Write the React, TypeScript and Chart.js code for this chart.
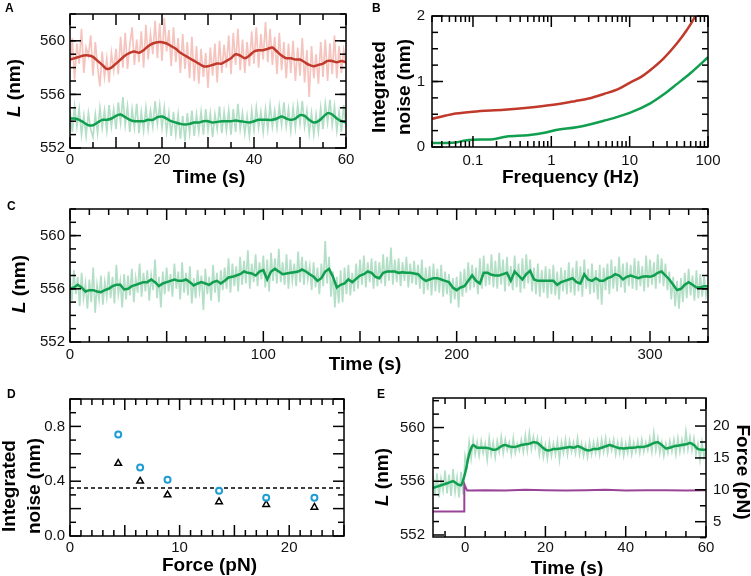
import React, { useEffect, useRef } from 'react';
import { Chart, registerables } from 'chart.js';
Chart.register(...registerables);

const FONT = '"Liberation Sans", Arial, Helvetica, sans-serif';
const TXT = '#111111';
const RED = '#c0392b';
const RED_LIGHT = '#f6c4be';
const GREEN = '#0f9f4f';
const GREEN_LIGHT = '#b3dfc6';
const PURPLE = '#9a4498';
const CYAN = '#1f9dd3';

// ---------- Panel A ----------
const A_RAW_T0 = 0;
const A_RAW_DT = 0.5;
const A_SMOOTH_DT = 1;
const A_X_LABELS = [0, 20, 40, 60];
const A_Y_LABELS = [552, 556, 560];
const A_RED_RAW = [
  558.0, 560.2, 557.1, 559.8, 558.3, 560.9, 557.6, 559.5, 558.9, 560.4,
  557.4, 559.9, 558.1, 556.6, 559.2, 557.3, 558.7, 556.9, 559.1, 557.8,
  559.4, 557.5, 560.3, 558.0, 560.6, 557.9, 559.7, 561.0, 558.2, 560.1,
  558.4, 560.7, 558.0, 561.2, 558.6, 560.5, 559.0, 561.5, 558.7, 561.3,
  558.5, 561.7, 559.2, 560.8, 558.1, 561.0, 558.4, 560.2, 557.6, 560.5,
  557.9, 559.9, 557.2, 560.3, 557.0, 559.6, 556.8, 559.4, 557.3, 559.1,
  556.5, 559.5, 557.4, 559.8, 556.9, 560.0, 557.6, 559.7, 558.0, 560.4,
  557.5, 560.6, 558.2, 560.9, 557.8, 560.1, 557.6, 559.9, 558.1, 560.7,
  558.3, 561.0, 558.0, 560.5, 558.6, 561.4, 558.4, 560.9, 558.2, 560.3,
  557.5, 560.6, 557.8, 559.9, 557.2, 559.8, 557.6, 560.0, 557.0, 559.5,
  557.4, 560.2, 556.9, 559.3, 555.8, 559.6, 557.2, 559.0, 556.8, 559.9,
  557.3, 560.1, 557.0, 559.8, 557.5, 560.4, 557.2, 559.6, 557.6, 559.3,
  558.2,
];
const A_GREEN_RAW = [
  554.8, 553.2, 555.1, 553.6, 554.9, 553.0, 554.4, 552.9, 554.6, 553.4,
  552.8, 554.5, 553.1, 555.0, 553.5, 554.8, 553.3, 555.2, 553.6, 554.9,
  553.4, 555.4, 553.9, 555.8, 553.7, 555.1, 553.2, 554.9, 553.5, 555.3,
  553.1, 554.7, 553.3, 555.0, 553.4, 554.8, 553.6, 555.5, 553.8, 555.2,
  553.5, 555.0, 553.2, 554.6, 552.9, 554.7, 553.0, 554.5, 552.7, 554.4,
  552.5, 554.6, 553.1, 554.8, 552.9, 554.5, 553.2, 554.7, 553.0, 554.9,
  553.3, 554.6, 552.8, 554.5, 553.4, 555.1, 553.1, 554.7, 553.3, 554.8,
  553.0, 554.9, 553.2, 555.3, 553.4, 554.6, 553.1, 554.4, 552.9, 554.8,
  553.3, 555.0, 553.5, 554.7, 553.2, 554.9, 553.4, 555.2, 553.6, 554.8,
  553.5, 555.1, 553.7, 555.4, 553.6, 554.9, 553.3, 555.0, 553.5, 555.2,
  553.8, 555.5, 553.6, 554.8, 553.1, 554.6, 553.0, 554.5, 553.2, 555.0,
  553.4, 555.3, 553.9, 555.6, 553.7, 555.1, 553.3, 554.7, 553.2, 555.2,
  553.6,
];
const A_RED_SMOOTH = [
  558.6, 558.7, 558.8, 558.9, 558.9, 558.8, 558.5, 558.2, 557.9, 558.0,
  558.3, 558.6, 558.9, 559.1, 559.2, 559.1, 559.3, 559.6, 559.8, 559.9,
  559.9, 559.8, 559.6, 559.4, 559.1, 558.9, 558.7, 558.5, 558.3, 558.1,
  558.1, 558.2, 558.3, 558.3, 558.5, 558.7, 559.0, 558.9, 558.7, 558.9,
  559.2, 559.3, 559.3, 559.4, 559.5, 559.2, 558.9, 558.7, 558.7, 558.6,
  558.6, 558.4, 558.2, 558.1, 558.2, 558.3, 558.5, 558.5, 558.4, 558.5,
  558.4,
];
const A_GREEN_SMOOTH = [
  554.2, 554.2, 554.1, 553.9, 553.7, 553.7, 553.9, 554.1, 554.1, 554.2,
  554.4, 554.5, 554.3, 554.1, 554.0, 554.0, 554.0, 554.1, 554.1, 554.3,
  554.35, 554.2, 554.0, 553.9, 553.8, 553.75, 553.8, 553.9, 553.9, 554.0,
  554.0, 553.9, 553.95, 554.0, 554.0, 554.0, 554.05, 554.0, 553.95, 553.9,
  554.0, 554.1, 554.1, 554.1, 554.1, 554.2, 554.35, 554.2, 554.1, 554.2,
  554.45, 554.4, 554.1, 553.9, 554.0, 554.3, 554.6, 554.5, 554.2, 554.0,
  553.9,
];

// ---------- Panel B ----------
const B_X_LABELS = [0.1, 1, 10, 100];
const B_Y_LABELS = [0, 1, 2];
const B_MINOR_X = [0.03, 0.04, 0.05, 0.06, 0.07, 0.08, 0.09, 0.2, 0.3, 0.4, 0.5, 0.6, 0.7, 0.8, 0.9,
  2, 3, 4, 5, 6, 7, 8, 9, 20, 30, 40, 50, 60, 70, 80, 90];
const B_FREQ_RED = [0.03, 0.045, 0.06, 0.1, 0.25, 0.5, 1, 2, 3, 4.7, 7, 10, 14, 18.6, 27, 40, 54, 69, 85];
const B_RED = [0.43, 0.48, 0.51, 0.54, 0.57, 0.60, 0.64, 0.70, 0.74, 0.81, 0.88, 0.98, 1.07, 1.18, 1.35, 1.58, 1.79, 2.0, 2.25];
const B_FREQ_GREEN = [0.03, 0.06, 0.08, 0.1, 0.18, 0.27, 0.5, 0.85, 1.15, 2.1, 4.7, 10, 18.6, 27, 40, 60, 100];
const B_GREEN = [0.06, 0.07, 0.1, 0.11, 0.12, 0.16, 0.18, 0.22, 0.26, 0.30, 0.40, 0.52, 0.67, 0.80, 0.96, 1.13, 1.37];

// ---------- Panel C ----------
const C_RAW_T0 = 0;
const C_RAW_DT = 1;
const C_SMOOTH_DT = 2;
const C_X_LABELS = [0, 100, 200, 300];
const C_Y_LABELS = [552, 556, 560];
const C_RAW = [
  556.8, 555.1, 557.4, 555.6, 556.9, 554.7, 557.2, 555.3, 556.4, 554.5,
  556.7, 555.0, 557.6, 554.2, 556.3, 555.2, 557.0, 554.8, 556.5, 555.4,
  557.3, 555.3, 556.9, 554.9, 557.8, 555.6, 556.6, 554.6, 557.1, 555.2,
  557.0, 555.5, 557.5, 555.0, 556.8, 555.7, 557.9, 555.4, 557.2, 555.8,
  557.4, 555.1, 557.0, 555.9, 558.2, 555.3, 556.9, 554.6, 557.3, 555.6,
  557.6, 555.8, 557.1, 555.4, 557.9, 556.0, 557.3, 555.2, 558.0, 555.7,
  557.2, 555.5, 557.7, 554.9, 556.8, 555.3, 557.4, 555.8, 557.0, 554.4,
  557.5, 555.6, 556.9, 555.1, 557.8, 555.7, 557.2, 555.0, 557.4, 555.9,
  557.6, 556.0, 558.3, 555.7, 557.9, 556.2, 557.7, 555.8, 558.4, 556.3,
  558.1, 556.4, 558.9, 556.0, 557.9, 556.5, 558.6, 556.2, 558.0, 556.7,
  558.5, 556.1, 558.2, 555.8, 558.7, 556.6, 558.3, 556.4, 559.0, 556.5,
  558.0, 556.3, 558.6, 556.0, 558.2, 556.6, 557.9, 556.2, 558.8, 556.5,
  558.4, 556.3, 558.1, 556.7, 557.7, 555.9, 558.0, 556.1, 557.6, 555.6,
  557.9, 556.2, 559.6, 556.4, 558.4, 555.4, 557.3, 554.6, 556.9, 554.9,
  557.4, 555.0, 557.6, 555.6, 557.8, 555.5, 557.2, 555.8, 557.9, 556.0,
  558.2, 556.3, 558.5, 556.1, 558.0, 556.5, 558.3, 556.0, 558.1, 556.2,
  558.0, 556.4, 558.6, 556.2, 558.4, 556.6, 559.1, 556.3, 558.2, 556.5,
  558.3, 556.2, 558.0, 556.6, 558.4, 556.1, 557.9, 556.4, 558.1, 556.3,
  557.8, 556.0, 558.2, 555.6, 557.6, 555.9, 557.7, 555.5, 557.9, 555.8,
  557.5, 555.7, 557.8, 555.4, 557.3, 555.6, 557.1, 554.9, 556.8, 555.2,
  556.9, 554.6, 557.3, 555.4, 557.5, 555.7, 558.0, 555.9, 557.8, 556.1,
  557.6, 555.6, 558.3, 556.0, 558.5, 556.2, 557.9, 556.3, 558.6, 556.1,
  558.1, 556.0, 558.7, 556.3, 558.2, 555.8, 558.4, 556.2, 557.7, 555.9,
  558.5, 556.1, 557.9, 555.7, 558.3, 556.0, 558.6, 556.4, 558.2, 555.8,
  557.6, 555.6, 557.9, 555.4, 557.4, 555.7, 557.7, 555.3, 557.5, 555.6,
  557.8, 555.5, 557.3, 555.2, 557.6, 555.8, 557.4, 555.6, 558.0, 555.7,
  557.6, 555.5, 558.1, 555.8, 557.7, 555.4, 558.2, 556.0, 557.5, 555.6,
  557.9, 555.7, 557.4, 555.2, 557.8, 554.8, 557.6, 555.9, 557.9, 555.6,
  558.2, 556.0, 557.7, 555.8, 558.4, 556.1, 557.9, 555.7, 558.0, 556.2,
  557.8, 556.0, 558.3, 555.9, 558.1, 556.2, 557.7, 555.8, 558.5, 556.1,
  558.2, 556.3, 558.0, 556.0, 558.6, 556.4, 558.3, 556.2, 557.9, 555.9,
  557.3, 555.2, 556.9, 554.7, 556.6, 554.5, 556.8, 555.0, 557.2, 555.3,
  557.5, 555.5, 557.0, 555.1, 557.4, 555.3, 557.1, 555.4, 556.9, 555.5,
  556.3,
];
const C_SMOOTH = [
  556.0, 556.1, 556.3, 556.1, 555.8, 555.9, 555.9, 555.8, 555.75, 555.9,
  556.0, 556.2, 556.3, 556.3, 555.95, 556.0, 556.2, 556.3, 556.4, 556.5,
  556.5, 556.7, 556.5, 556.2, 556.4, 556.5, 556.6, 556.7, 556.6, 556.6,
  556.7, 556.5, 556.25, 556.4, 556.5, 556.4, 556.3, 556.5, 556.6, 556.4,
  556.6, 556.85, 556.9, 557.0, 557.1, 557.3, 557.2, 557.15, 557.0, 557.3,
  557.4, 556.7, 557.3, 557.5, 557.3, 557.1, 557.15, 557.2, 557.25, 557.3,
  557.45, 557.3, 557.1, 556.9, 556.6, 556.8, 557.3, 557.5, 556.9, 556.1,
  556.3, 556.4, 556.7, 556.5, 556.75, 557.0, 557.1, 557.3, 557.2, 556.9,
  556.8, 557.2, 557.3, 557.3, 557.3, 557.2, 557.25, 557.2, 557.2, 557.15,
  557.1, 556.8, 556.6, 556.7, 556.8, 556.8, 556.7, 556.6, 556.5, 556.1,
  555.9, 556.1, 556.2, 556.6, 557.0, 556.6, 556.4, 557.2, 557.2, 557.05,
  557.0, 557.0, 557.1, 557.2, 556.6, 557.3, 557.0, 556.7, 557.1, 557.35,
  556.7, 556.6, 556.6, 556.6, 556.6, 556.6, 556.3, 556.5, 556.6, 556.7,
  556.8, 556.5, 556.4, 557.1, 556.7, 556.6, 556.8, 556.6, 556.6, 556.8,
  556.9, 557.1, 557.0, 556.7, 556.9, 557.0, 556.9, 556.8, 556.9, 556.95,
  556.9, 557.0, 557.2, 557.3, 557.0, 556.7, 556.3, 555.9, 556.0, 556.3,
  556.5, 556.3, 556.1, 556.1, 556.2, 556.2,
];

// ---------- Panel D ----------
const D_X_LABELS = [0, 10, 20];
const D_Y_LABELS = [0.0, 0.4, 0.8];
const D_FORCE = [4.4, 6.4, 8.9, 13.6, 17.9, 22.3];
const D_CIRCLE_NOISE = [0.74, 0.50, 0.41, 0.33, 0.28, 0.28];
const D_TRIANGLE_NOISE = [0.53, 0.40, 0.30, 0.25, 0.23, 0.21];
const D_LEVEL_X = [0, 25];
const D_LEVEL_Y = [0.35, 0.35];

// ---------- Panel E ----------
const E_RAW_T0 = -8;
const E_RAW_DT = 0.5;
const E_SMOOTH_DT = 1;
const E_X_LABELS = [0, 20, 40, 60];
const E_Y_LABELS = [552, 556, 560];
const E_F_LABELS = [5, 10, 15, 20];
const E_RAW = [
  556.4, 555.0, 556.6, 554.8, 556.2, 555.3, 556.8, 555.1, 556.5, 554.9,
  556.9, 555.2, 556.3, 554.8, 556.7, 555.0, 557.9, 557.2, 558.9, 557.7,
  559.1, 558.0, 558.9, 557.9, 559.0, 558.1, 558.8, 557.6, 559.2, 558.0,
  558.9, 557.8, 559.0, 558.2, 559.3, 558.1, 559.1, 558.3, 558.9, 558.0,
  559.2, 558.1, 558.8, 558.3, 559.1, 558.2, 559.4, 558.3, 559.6, 558.4,
  559.3, 558.5, 559.2, 558.0, 559.0, 557.8, 558.7, 557.7, 558.9, 557.9,
  558.8, 558.0, 559.0, 557.6, 558.9, 558.1, 559.1, 558.0, 559.0, 558.2,
  558.9, 558.1, 559.2, 558.0, 558.8, 557.9, 558.7, 557.8, 558.9, 558.0,
  558.9, 558.1, 559.0, 558.0, 559.1, 558.2, 559.2, 558.1, 559.0, 558.3,
  559.1, 558.0, 558.9, 558.1, 559.0, 557.9, 558.8, 558.1, 559.1, 558.0,
  558.9, 558.2, 559.0, 558.1, 559.1, 558.2, 558.9, 558.3, 559.2, 558.2,
  559.6, 558.3, 559.2, 558.1, 558.9, 557.9, 558.8, 558.1, 559.0, 558.2,
  559.1, 558.0, 559.2, 558.2, 559.1, 558.3, 559.7, 558.4, 559.3, 558.3,
  559.2, 558.0, 558.8, 557.6, 558.9, 557.8, 558.4,
];
const E_SMOOTH = [
  555.5, 555.6, 555.7, 555.8, 555.9, 556.0, 555.8, 555.7, 556.6, 558.0,
  558.7, 558.5, 558.5, 558.5, 558.45, 558.35, 558.4, 558.6, 558.7, 558.6,
  558.55, 558.6, 558.7, 558.75, 558.8, 558.9, 558.85, 558.6, 558.35, 558.3,
  558.4, 558.4, 558.45, 558.5, 558.55, 558.5, 558.6, 558.5, 558.35, 558.3,
  558.4, 558.4, 558.5, 558.6, 558.7, 558.6, 558.5, 558.45, 558.45, 558.5,
  558.5, 558.55, 558.55, 558.6, 558.7, 558.85, 558.9, 558.7, 558.45, 558.5,
  558.6, 558.65, 558.7, 558.75, 558.85, 558.7, 558.4, 558.35, 558.35,
];
const E_FORCE_T = [-8, -0.2, -0.2, 0.1, 0.5, 5, 10, 15, 20, 25, 30, 35, 40, 45, 50, 55, 60];
const E_FORCE = [6.6, 6.6, 10.9, 10.4, 9.9, 9.95, 9.9, 10.0, 9.95, 9.9, 9.95, 10.0, 9.9, 9.95, 9.95, 9.9, 9.95];

// ---------- helpers ----------
const range = (a: number, b: number, s: number) => {
  const out: number[] = [];
  for (let v = a; v <= b + 1e-9; v += s) out.push(+v.toFixed(6));
  return out;
};
const sampled = (t0: number, dt: number, ys: number[]) => ys.map((y, i) => ({ x: t0 + i * dt, y }));
const paired = (xs: number[], ys: number[]) => xs.map((x, i) => ({ x, y: ys[i] }));

const tickFont = { family: FONT, size: 15 };

function xAxis(type: string, min: number, max: number, labels: number[], pad: number, h: number, fmt?: (v: number) => string) {
  return {
    type, position: 'bottom', min, max,
    afterBuildTicks: (s: any) => { s.ticks = labels.map((v) => ({ value: v })); },
    afterFit: (s: any) => { s.height = h; },
    grid: { display: false, drawTicks: false },
    border: { display: false },
    ticks: {
      font: tickFont, color: TXT, padding: pad, maxRotation: 0, minRotation: 0, autoSkip: false,
      callback: (v: any) => (fmt ? fmt(Number(v)) : String(v)),
    },
  };
}
function yAxis(position: string, min: number, max: number, labels: number[], pad: number, w: number, fmt?: (v: number) => string) {
  return {
    type: 'linear', position, min, max,
    afterBuildTicks: (s: any) => { s.ticks = labels.map((v) => ({ value: v })); },
    afterFit: (s: any) => { s.width = w; },
    grid: { display: false, drawTicks: false },
    border: { display: false },
    ticks: {
      font: tickFont, color: TXT, padding: pad, autoSkip: false,
      callback: (v: any) => (fmt ? fmt(Number(v)) : String(v)),
    },
  };
}

type TickSet = { axis: string; edges: string[]; major: number[]; minor: number[] };
function framePlugin(sets: TickSet[]) {
  return {
    id: 'frame',
    afterDatasetsDraw(chart: any) {
      const { ctx, chartArea } = chart;
      const { left, right, top, bottom } = chartArea;
      ctx.save();
      ctx.strokeStyle = '#000';
      ctx.lineWidth = 1.5;
      ctx.lineCap = 'butt';
      for (const set of sets) {
        const scale = chart.scales[set.axis];
        const draw = (vals: number[], len: number) => {
          for (const v of vals) {
            const p = scale.getPixelForValue(v);
            for (const e of set.edges) {
              ctx.beginPath();
              if (e === 'bottom') { ctx.moveTo(p, bottom); ctx.lineTo(p, bottom - len); }
              if (e === 'top') { ctx.moveTo(p, top); ctx.lineTo(p, top + len); }
              if (e === 'left') { ctx.moveTo(left, p); ctx.lineTo(left + len, p); }
              if (e === 'right') { ctx.moveTo(right, p); ctx.lineTo(right - len, p); }
              ctx.stroke();
            }
          }
        };
        draw(set.minor, 6);
        draw(set.major, 11);
      }
      ctx.strokeRect(left, top, right - left, bottom - top);
      ctx.restore();
    },
  };
}

type Part = { t: string; italic?: boolean };
type TextItem = { x: number; y: number; rot: number; parts: Part[] };
function textPlugin(items: TextItem[], ox: number, oy: number) {
  return {
    id: 'texts',
    afterDraw(chart: any) {
      const ctx = chart.ctx;
      ctx.save();
      ctx.fillStyle = '#000';
      ctx.textBaseline = 'middle';
      ctx.textAlign = 'left';
      for (const it of items) {
        ctx.save();
        ctx.translate(it.x - ox, it.y - oy);
        ctx.rotate((it.rot * Math.PI) / 180);
        const fonts = it.parts.map((p) => `${p.italic ? 'italic ' : ''}bold 19px ${FONT}`);
        let total = 0;
        const widths = it.parts.map((p, i) => { ctx.font = fonts[i]; const w = ctx.measureText(p.t).width; total += w; return w; });
        let cx = -total / 2;
        it.parts.forEach((p, i) => { ctx.font = fonts[i]; ctx.fillText(p.t, cx, 0); cx += widths[i]; });
        ctx.restore();
      }
      ctx.restore();
    },
  };
}

const L_PARTS: Part[] = [{ t: 'L', italic: true }, { t: ' (nm)' }];

// Chart.js draws dataset 0 on top, so smoothed traces are listed first.
const lineDs = (data: any[], color: string, width: number, extra: any = {}) => ({
  data, borderColor: color, backgroundColor: color, borderWidth: width, pointRadius: 0,
  fill: false, tension: 0, ...extra,
});

const baseOptions = (padding: any, scales: any) => ({
  responsive: false,
  animation: false,
  events: [],
  layout: { padding },
  plugins: { legend: { display: false }, tooltip: { enabled: false }, title: { display: false } },
  scales,
});

// ---------- chart configs ----------
function makeA(ox: number, oy: number): any {
  return {
    type: 'line',
    data: {
      datasets: [
        lineDs(sampled(A_RAW_T0, A_SMOOTH_DT, A_RED_SMOOTH), RED, 2.5, { tension: 0.3 }),
        lineDs(sampled(A_RAW_T0, A_SMOOTH_DT, A_GREEN_SMOOTH), GREEN, 2.5, { tension: 0.3 }),
        lineDs(sampled(A_RAW_T0, A_RAW_DT, A_RED_RAW), RED_LIGHT, 1.7),
        lineDs(sampled(A_RAW_T0, A_RAW_DT, A_GREEN_RAW), GREEN_LIGHT, 1.7),
      ],
    },
    options: baseOptions({ left: 0, top: 12, right: 26, bottom: 0 }, {
      x: xAxis('linear', 0, 60, A_X_LABELS, 3, 47),
      y: yAxis('left', 552, 562, A_Y_LABELS, 5, 70),
    }),
    plugins: [
      framePlugin([
        { axis: 'x', edges: ['bottom', 'top'], major: range(0, 60, 10), minor: range(5, 55, 10) },
        { axis: 'y', edges: ['left', 'right'], major: A_Y_LABELS, minor: range(553, 562, 1) },
      ]),
      textPlugin([
        { x: 14.5, y: 88, rot: -90, parts: L_PARTS },
        { x: 209, y: 178, rot: 0, parts: [{ t: 'Time (s)' }] },
      ], ox, oy),
    ],
  };
}

function makeB(ox: number, oy: number): any {
  return {
    type: 'line',
    data: {
      datasets: [
        lineDs(paired(B_FREQ_RED, B_RED), RED, 2.5, { cubicInterpolationMode: 'monotone', clip: 0 }),
        lineDs(paired(B_FREQ_GREEN, B_GREEN), GREEN, 2.5, { cubicInterpolationMode: 'monotone', clip: 0 }),
      ],
    },
    options: baseOptions({ left: 0, top: 11, right: 43, bottom: 0 }, {
      x: xAxis('logarithmic', 0.03, 100, B_X_LABELS, 5, 48, (v) => String(v)),
      y: yAxis('left', 0, 2, B_Y_LABELS, 7, 72),
    }),
    plugins: [
      framePlugin([
        { axis: 'x', edges: ['bottom', 'top'], major: B_X_LABELS, minor: B_MINOR_X },
        { axis: 'y', edges: ['left', 'right'], major: B_Y_LABELS, minor: range(0.25, 1.75, 0.25) },
      ]),
      textPlugin([
        { x: 379.5, y: 87, rot: -90, parts: [{ t: 'Integrated' }] },
        { x: 405, y: 87, rot: -90, parts: [{ t: 'noise (nm)' }] },
        { x: 570.5, y: 178, rot: 0, parts: [{ t: 'Frequency (Hz)' }] },
      ], ox, oy),
    ],
  };
}

function makeC(ox: number, oy: number): any {
  return {
    type: 'line',
    data: {
      datasets: [
        lineDs(sampled(C_RAW_T0, C_SMOOTH_DT, C_SMOOTH), GREEN, 2.5),
        lineDs(sampled(C_RAW_T0, C_RAW_DT, C_RAW), GREEN_LIGHT, 1.7),
      ],
    },
    options: baseOptions({ left: 0, top: 10, right: 43, bottom: 0 }, {
      x: xAxis('linear', 0, 330, C_X_LABELS, 4, 38),
      y: yAxis('left', 552, 562, C_Y_LABELS, 5, 70),
    }),
    plugins: [
      framePlugin([
        { axis: 'x', edges: ['bottom', 'top'], major: range(0, 300, 50), minor: range(10, 330, 10).filter((v) => v % 50 !== 0) },
        { axis: 'y', edges: ['left', 'right'], major: C_Y_LABELS, minor: range(553, 562, 1) },
      ]),
      textPlugin([
        { x: 20, y: 284, rot: -90, parts: L_PARTS },
        { x: 365, y: 365, rot: 0, parts: [{ t: 'Time (s)' }] },
      ], ox, oy),
    ],
  };
}

function makeD(ox: number, oy: number): any {
  return {
    type: 'line',
    data: {
      datasets: [
        {
          data: paired(D_FORCE, D_CIRCLE_NOISE), showLine: false, pointStyle: 'circle',
          pointRadius: 3, pointBorderWidth: 2, pointBorderColor: CYAN, pointBackgroundColor: 'rgba(0,0,0,0)',
        },
        {
          data: paired(D_FORCE, D_TRIANGLE_NOISE), showLine: false, pointStyle: 'triangle',
          pointRadius: 3.8, pointBorderWidth: 1.5, pointBorderColor: '#000', pointBackgroundColor: 'rgba(0,0,0,0)',
        },
        lineDs(paired(D_LEVEL_X, D_LEVEL_Y), '#000', 1.5, { borderDash: [4, 3] }),
      ],
    },
    options: baseOptions({ left: 0, top: 19, right: 28, bottom: 0 }, {
      x: xAxis('linear', 0, 25, D_X_LABELS, 3, 40),
      y: yAxis('left', 0, 1, D_Y_LABELS, 5, 70, (v) => v.toFixed(1)),
    }),
    plugins: [
      framePlugin([
        { axis: 'x', edges: ['bottom', 'top'], major: range(0, 25, 5), minor: range(1, 24, 1).filter((v) => v % 5 !== 0) },
        { axis: 'y', edges: ['left', 'right'], major: range(0, 1, 0.2), minor: range(0.1, 0.9, 0.2) },
      ]),
      textPlugin([
        { x: 10, y: 486, rot: -90, parts: [{ t: 'Integrated' }] },
        { x: 34.5, y: 486, rot: -90, parts: [{ t: 'noise (nm)' }] },
        { x: 209.5, y: 566, rot: 0, parts: [{ t: 'Force (pN)' }] },
      ], ox, oy),
    ],
  };
}

function makeE(ox: number, oy: number): any {
  return {
    type: 'line',
    data: {
      datasets: [
        lineDs(sampled(E_RAW_T0, E_SMOOTH_DT, E_SMOOTH), GREEN, 2.5, { tension: 0.2 }),
        lineDs(paired(E_FORCE_T, E_FORCE), PURPLE, 2, { yAxisID: 'y2' }),
        lineDs(sampled(E_RAW_T0, E_RAW_DT, E_RAW), GREEN_LIGHT, 1.7),
      ],
    },
    options: baseOptions({ left: 0, top: 18, right: 0, bottom: 0 }, {
      x: xAxis('linear', -8, 60, E_X_LABELS, 2, 39),
      y: yAxis('left', 551.85, 562.2, E_Y_LABELS, 8, 61),
      y2: yAxis('right', 2.6, 24.4, E_F_LABELS, 7, 45),
    }),
    plugins: [
      framePlugin([
        { axis: 'x', edges: ['bottom', 'top'], major: E_X_LABELS, minor: range(-5, 55, 5).filter((v) => v % 20 !== 0) },
        { axis: 'y', edges: ['left'], major: E_Y_LABELS, minor: range(553, 562, 1).filter((v) => (v - 552) % 4 !== 0) },
        { axis: 'y2', edges: ['right'], major: E_F_LABELS, minor: range(2.5, 22.5, 5) },
      ]),
      textPlugin([
        { x: 383, y: 477, rot: -90, parts: L_PARTS },
        { x: 567, y: 569, rot: 0, parts: [{ t: 'Time (s)' }] },
        { x: 742.5, y: 472, rot: 90, parts: [{ t: 'Force (pN)' }] },
      ], ox, oy),
    ],
  };
}

function Panel({ left, top, width, height, make }: { left: number; top: number; width: number; height: number; make: (ox: number, oy: number) => any }) {
  const ref = useRef<HTMLCanvasElement>(null);
  useEffect(() => {
    const chart = new Chart(ref.current as HTMLCanvasElement, make(left, top));
    return () => chart.destroy();
  }, []);
  return (
    <canvas
      ref={ref}
      width={width}
      height={height}
      style={{ position: 'absolute', left, top, width, height }}
    />
  );
}

const letterStyle = (left: number, top: number): React.CSSProperties => ({
  position: 'absolute', left, top, fontFamily: FONT, fontWeight: 'bold', fontSize: 12, lineHeight: '12px', color: '#000',
});

export default function App() {
  return (
    <div style={{ position: 'absolute', left: 0, top: 0, width: 751, height: 576, background: '#fff', overflow: 'hidden' }}>
      <Panel left={0} top={0} width={372} height={195} make={makeA} />
      <Panel left={360} top={0} width={391} height={195} make={makeB} />
      <Panel left={0} top={195} width={751} height={185} make={makeC} />
      <Panel left={0} top={380} width={372} height={196} make={makeD} />
      <Panel left={372} top={380} width={379} height={196} make={makeE} />
      <div style={letterStyle(5, 2)}>A</div>
      <div style={letterStyle(372, 2)}>B</div>
      <div style={letterStyle(7, 200)}>C</div>
      <div style={letterStyle(7, 388)}>D</div>
      <div style={letterStyle(377, 388)}>E</div>
    </div>
  );
}
